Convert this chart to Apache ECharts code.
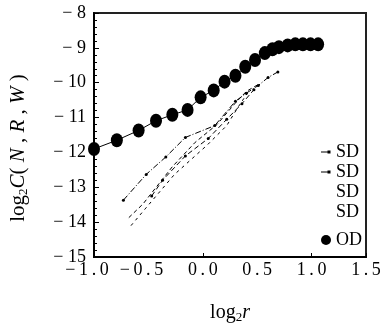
<!DOCTYPE html>
<html>
<head>
<meta charset="utf-8">
<script src="https://cdn.jsdelivr.net/npm/echarts@6/dist/echarts.min.js"></script>
<style>
  html, body { margin: 0; padding: 0; background: #fff; }
  #chart { width: 388px; height: 329px; }
</style>
</head>
<body>
<div id="chart"></div>
<script>
// OD (big dots)
const odX = [-1.0, -0.79, -0.59, -0.43, -0.28, -0.14, -0.02, 0.10, 0.20, 0.30, 0.39, 0.48, 0.57, 0.64, 0.70, 0.78, 0.85, 0.92, 0.99, 1.06]
const odY = [-11.90, -11.65, -11.37, -11.09, -10.92, -10.78, -10.42, -10.22, -9.97, -9.80, -9.54, -9.35, -9.15, -9.04, -8.98, -8.93, -8.90, -8.90, -8.90, -8.90]

// SD curves (dashed)
const sd1X = [-0.73, -0.52, -0.34, -0.16, 0.11, 0.30, 0.40, 0.51, 0.60, 0.69]
const sd1Y = [-13.37, -12.63, -12.13, -11.57, -11.23, -10.53, -10.30, -10.08, -9.85, -9.69]
const sd2X = [-0.47, -0.37, -0.16, 0.05, 0.22, 0.36, 0.47]
const sd2Y = [-13.25, -12.80, -12.10, -11.60, -11.05, -10.60, -10.20]
const sd3X = [-0.68, -0.55, -0.28, -0.07, 0.13, 0.30, 0.40, 0.51]
const sd3Y = [-13.87, -13.48, -12.41, -11.71, -11.20, -10.58, -10.25, -10.05]
const sd4X = [-0.66, -0.53, -0.26, 0.04, 0.22, 0.32, 0.41]
const sd4Y = [-14.10, -13.62, -12.63, -11.79, -11.23, -10.72, -10.30]

const FONT = '"Liberation Serif", "DejaVu Serif", serif'
const pairs = (xs, ys) => xs.map((x, i) => [x, ys[i]])

// short line with a small dot at its right end
const SD_ICON = 'path://M0,0M10,10M0,4.5h8v1h-8zM6.5,3.5h3v3h-3z'

const chart = echarts.init(document.getElementById('chart'))

const sdSeries = (name, xs, ys, dash, sym) => ({
  name,
  type: 'line',
  data: pairs(xs, ys),
  symbol: sym ? 'circle' : 'none',
  symbolSize: 3,
  itemStyle: { color: '#000' },
  lineStyle: { color: '#000', width: 1, type: dash },
  z: 2
})

const nameRich = (size) => ({
  a: { fontFamily: FONT, fontSize: size, color: '#000' },
  s: { fontFamily: FONT, fontSize: 13, color: '#000', padding: [10, 0, 0, 0] },
  i: { fontFamily: FONT, fontSize: size, fontStyle: 'italic', color: '#000' }
})

chart.setOption({
  animation: false,
  backgroundColor: '#fff',
  grid: {
    left: 90, right: 22, top: 13, bottom: 67,
    show: true, borderColor: '#222', borderWidth: 2
  },
  legend: {
    orient: 'vertical',
    right: 26,
    top: 143,
    padding: 0,
    itemGap: 2,
    itemWidth: 10,
    itemHeight: 10,
    textStyle: { fontFamily: FONT, fontSize: 18, color: '#000' },
    formatter: name => name.replace(/\d/g, ''),
    data: [
      { name: 'SD1', icon: SD_ICON },
      { name: 'SD2', icon: SD_ICON },
      { name: 'SD3', icon: SD_ICON, itemStyle: { opacity: 0 } },
      { name: 'SD4', icon: SD_ICON, itemStyle: { opacity: 0 } },
      { name: 'OD', icon: 'circle', textStyle: { lineHeight: 34 } }
    ]
  },
  xAxis: [{
    type: 'value',
    min: -1, max: 1.5, interval: 0.5,
    axisLine: { onZero: false, lineStyle: { color: '#000', width: 2 } },
    axisTick: { show: false },
    splitLine: { show: false },
    axisLabel: {
      margin: 4,
      fontFamily: FONT, fontSize: 18, color: '#000',
      formatter: v => {
        const s = Math.abs(v).toFixed(1).split('').join('\u2009')
        return v < 0 ? '−\u2009' + s + '{h| }' : s
      },
      rich: { h: { width: 14 } }
    },
    name: '{a|log}{s|2}{i|r}',
    nameLocation: 'middle',
    nameGap: 44,
    nameTextStyle: { rich: nameRich(20) }
  }, {
    type: 'value',
    position: 'bottom',
    min: -1, max: 1.5, interval: 1,
    axisLine: { show: false, onZero: false },
    axisLabel: { show: false },
    splitLine: { show: false },
    axisTick: { inside: true, length: 4, lineStyle: { color: '#000' } }
  }],
  yAxis: {
    type: 'value',
    min: -15, max: -8, interval: 1,
    axisLine: { onZero: false, lineStyle: { color: '#000', width: 2 } },
    axisTick: { inside: true, length: 5, lineStyle: { color: '#000' } },
    minorTick: { show: true, splitNumber: 5, length: 3, lineStyle: { color: '#000' } },
    splitLine: { show: false },
    axisLabel: {
      margin: 8,
      fontFamily: FONT, fontSize: 18, color: '#000',
      formatter: v => '− ' + Math.abs(v)
    },
    name: '{a|log}{s|2}{i|C}{a|( }{i|N}{a| , }{i|R}{a| , }{i|W}{a| )}',
    nameLocation: 'middle',
    nameRotate: 90,
    nameGap: 64,
    nameTextStyle: {
      padding: [0, 26, 0, 0],
      rich: nameRich(21)
    }
  },
  series: [
    sdSeries('SD1', sd1X, sd1Y, [6, 2, 1, 2], true),
    sdSeries('SD2', sd2X, sd2Y, [5, 3], true),
    sdSeries('SD3', sd3X, sd3Y, [4, 3], false),
    sdSeries('SD4', sd4X, sd4Y, [3, 4], false),
    {
      name: 'OD',
      type: 'line',
      data: pairs(odX, odY),
      symbol: 'circle',
      symbolSize: [12, 14],
      itemStyle: { color: '#000' },
      lineStyle: { color: '#000', width: 1 },
      z: 3
    }
  ]
})
</script>
</body>
</html>
